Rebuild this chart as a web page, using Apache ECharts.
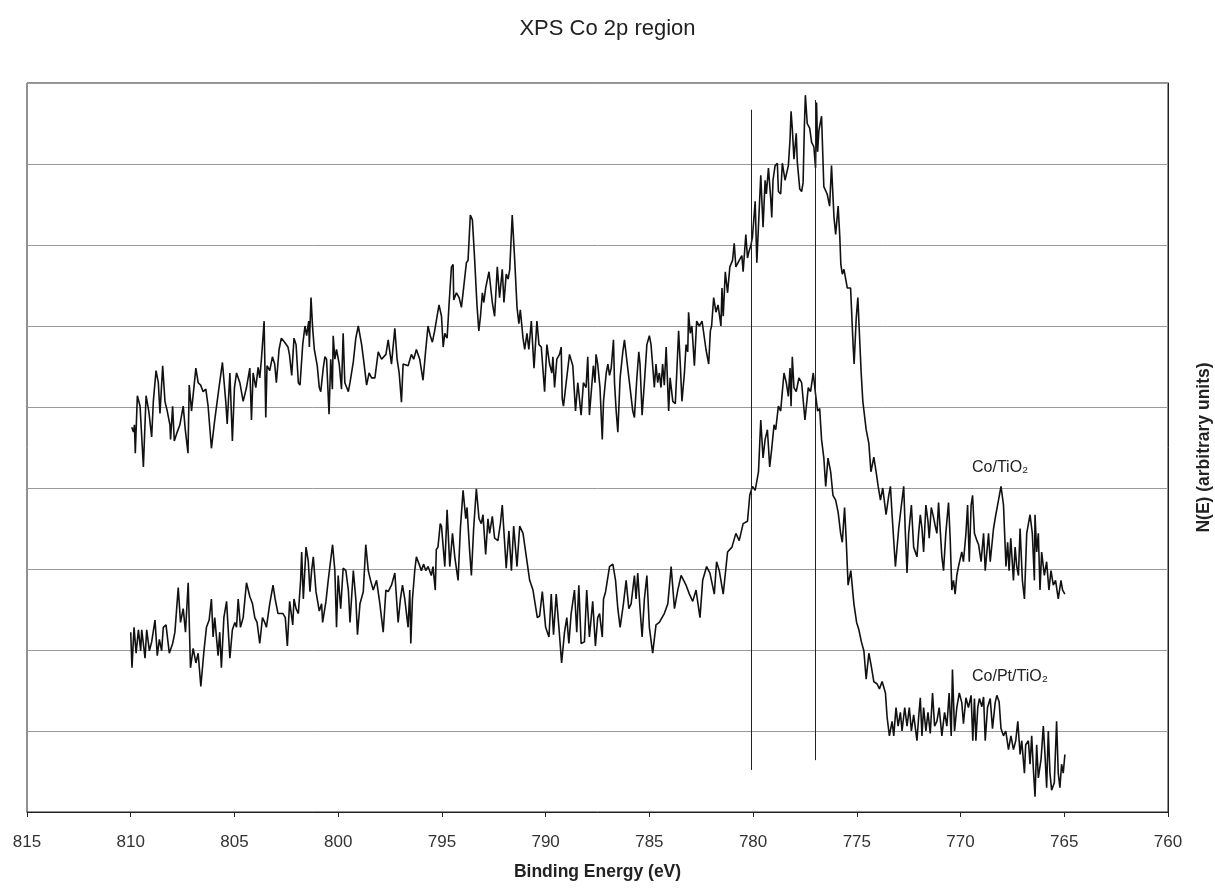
<!DOCTYPE html>
<html>
<head>
<meta charset="utf-8">
<title>XPS Co 2p region</title>
<script src="https://cdn.jsdelivr.net/npm/echarts@6/dist/echarts.min.js"></script>
<style>
  html, body { margin: 0; padding: 0; background: #fff; }
  #chart { width: 1215px; height: 888px; }
</style>
</head>
<body>
<div id="chart"></div>
<script>
// binding energy (eV) / N(E) pairs
const coTiO2 = [
  [809.95,4.75],[809.87,4.69],[809.82,4.78],[809.78,4.43],[809.68,5.14],[809.55,5.01],[809.39,4.26],[809.26,5.14],[809.13,4.95],[808.99,4.63],
  [808.91,5.07],[808.78,5.45],[808.67,5.30],[808.59,4.92],[808.46,5.51],[808.35,5.07],[808.24,4.95],[808.11,4.78],[808.08,4.60],[807.98,5.01],
  [807.90,4.58],[807.76,4.69],[807.63,4.78],[807.47,5.01],[807.37,4.72],[807.24,4.43],[807.18,5.27],[807.07,4.95],[806.86,5.48],[806.75,5.30],
  [806.63,5.27],[806.51,5.19],[806.38,5.22],[806.27,5.01],[806.11,4.49],[805.95,4.84],[805.77,5.19],[805.58,5.55],[805.42,5.07],[805.35,4.79],
  [805.22,5.42],[805.10,4.58],[805.00,5.24],[804.90,5.42],[804.74,5.30],[804.58,5.07],[804.42,5.24],[804.26,5.48],[804.18,4.84],[804.10,5.42],
  [803.97,5.24],[803.86,5.49],[803.78,5.36],[803.70,5.59],[803.57,6.06],[803.49,4.87],[803.43,5.51],[803.30,5.45],[803.17,5.62],[803.06,5.53],
  [802.98,5.30],[802.85,5.71],[802.74,5.85],[802.58,5.80],[802.42,5.74],[802.35,5.65],[802.24,5.39],[802.13,5.85],[802.03,5.77],[801.92,5.30],
  [801.84,5.27],[801.71,5.77],[801.60,6.00],[801.52,5.88],[801.42,6.06],[801.39,5.74],[801.31,6.35],[801.23,5.97],[801.15,5.71],[801.01,5.51],
  [800.91,5.24],[800.84,5.19],[800.72,5.48],[800.64,5.62],[800.56,5.59],[800.44,4.91],[800.36,5.59],[800.28,5.22],[800.24,5.88],[800.16,5.59],
  [800.08,5.71],[799.95,5.53],[799.84,5.22],[799.76,5.91],[799.68,5.30],[799.51,5.19],[799.43,5.30],[799.27,5.56],[799.15,5.85],[799.03,6.00],
  [798.87,5.77],[798.75,5.53],[798.63,5.27],[798.51,5.42],[798.39,5.36],[798.23,5.36],[798.07,5.68],[797.91,5.59],[797.70,5.65],[797.59,5.83],
  [797.43,5.53],[797.27,5.97],[797.16,5.59],[797.06,5.42],[796.95,5.06],[796.87,5.53],[796.63,5.51],[796.47,5.65],[796.36,5.59],[796.23,5.71],
  [796.07,5.59],[795.91,5.33],[795.80,5.65],[795.67,6.00],[795.56,5.88],[795.46,5.80],[795.35,5.94],[795.14,6.26],[795.02,6.12],[794.94,5.74],
  [794.86,5.91],[794.75,5.85],[794.65,6.29],[794.54,6.73],[794.46,6.76],[794.43,6.32],[794.30,6.41],[794.17,6.35],[794.06,6.23],[793.98,6.41],
  [793.82,6.78],[793.74,6.81],[793.63,7.37],[793.53,7.31],[793.42,6.81],[793.31,6.26],[793.22,5.94],[793.14,6.12],[793.05,6.41],[792.98,6.29],
  [792.89,6.47],[792.73,6.67],[792.57,6.29],[792.46,6.12],[792.33,6.73],[792.22,6.35],[792.09,6.70],[792.01,6.29],[791.90,6.64],[791.81,6.58],
  [791.73,6.70],[791.61,7.37],[791.49,6.81],[791.38,6.23],[791.29,6.03],[791.22,6.20],[791.09,5.85],[791.01,5.71],[790.90,5.91],[790.81,5.71],
  [790.69,6.06],[790.56,5.48],[790.42,6.06],[790.32,5.77],[790.21,5.74],[790.05,5.19],[789.94,5.77],[789.81,5.53],[789.70,5.42],[789.65,5.62],
  [789.57,5.24],[789.46,5.59],[789.33,5.65],[789.25,5.74],[789.20,5.10],[789.14,5.01],[789.01,5.30],[788.85,5.65],[788.69,5.51],[788.56,4.95],
  [788.45,5.30],[788.29,4.90],[788.18,5.30],[788.05,5.24],[787.97,5.62],[787.89,4.90],[787.70,5.51],[787.62,5.30],[787.57,5.65],[787.49,5.53],
  [787.38,5.24],[787.27,4.60],[787.21,5.07],[787.08,5.42],[787.00,5.53],[786.92,5.39],[786.84,5.48],[786.73,5.83],[786.68,5.30],[786.60,4.95],
  [786.52,4.69],[786.41,5.36],[786.28,5.68],[786.20,5.83],[786.12,5.65],[785.96,5.30],[785.80,4.95],[785.72,4.87],[785.61,5.33],[785.51,5.68],
  [785.45,5.53],[785.35,4.90],[785.24,5.30],[785.12,5.77],[785.00,5.88],[784.92,5.77],[784.84,5.51],[784.76,5.24],[784.68,5.53],[784.60,5.30],
  [784.52,5.42],[784.44,5.24],[784.36,5.53],[784.28,5.27],[784.19,5.74],[784.07,4.95],[784.00,5.36],[783.87,5.07],[783.75,5.04],[783.68,5.42],
  [783.59,5.94],[783.51,5.53],[783.43,5.07],[783.31,5.42],[783.23,5.77],[783.15,5.68],[783.11,6.17],[783.03,5.91],[782.95,6.00],[782.83,5.51],
  [782.72,6.06],[782.59,6.00],[782.46,6.06],[782.27,5.71],[782.14,5.53],[782.06,5.94],[782.00,6.00],[781.90,6.35],[781.79,6.17],[781.69,6.26],
  [781.55,6.00],[781.50,6.47],[781.44,6.12],[781.34,6.67],[781.23,6.41],[781.12,6.73],[780.99,6.81],[780.91,7.02],[780.83,6.73],[780.67,6.81],
  [780.54,6.87],[780.48,6.67],[780.35,7.13],[780.27,6.84],[780.19,6.93],[780.11,6.99],[780.03,7.10],[779.90,7.54],[779.82,6.78],[779.74,6.78],
  [779.63,7.86],[779.52,7.22],[779.42,7.80],[779.36,7.63],[779.26,7.95],[779.15,7.57],[779.10,7.34],[779.04,7.80],[778.94,7.98],[778.83,8.01],
  [778.78,7.66],[778.67,7.63],[778.59,8.01],[778.46,7.80],[778.30,7.98],[778.22,8.30],[778.17,8.65],[778.11,8.44],[778.03,8.06],[777.92,8.38],
  [777.87,8.03],[777.75,7.69],[777.66,7.66],[777.59,7.77],[777.53,8.44],[777.48,8.85],[777.39,8.50],[777.27,8.44],[777.18,8.27],[777.07,8.21],
  [776.99,7.95],[776.94,8.76],[776.89,8.15],[776.83,8.41],[776.70,8.59],[776.59,7.72],[776.43,7.63],[776.31,7.48],[776.22,7.98],[776.10,7.34],
  [776.02,7.13],[775.90,7.48],[775.82,7.10],[775.77,6.76],[775.70,6.64],[775.62,6.70],[775.46,6.47],[775.30,6.47],[775.22,6.00],[775.18,5.77],
  [775.13,5.53],[775.03,6.09],[774.95,6.35],[774.87,5.88],[774.79,5.42],[774.71,5.07],[774.55,4.72],[774.42,4.55],[774.32,4.20],[774.18,4.38],
  [774.07,4.20],[773.97,4.02],[773.86,3.85],[773.75,4.00],[773.59,3.67],[773.46,3.91],[773.38,4.02],[773.30,3.67],[773.14,3.03],[772.98,3.50],
  [772.85,3.79],[772.74,4.02],[772.66,3.44],[772.58,2.95],[772.50,3.44],[772.37,3.79],[772.26,3.27],[772.10,3.15],[772.02,3.44],[771.94,3.67],
  [771.86,3.50],[771.78,3.21],[771.67,3.79],[771.57,3.59],[771.51,3.38],[771.41,3.76],[771.31,3.65],[771.22,3.53],[771.14,3.44],[771.06,3.82],
  [770.90,3.15],[770.82,2.98],[770.71,3.44],[770.58,3.82],[770.50,3.38],[770.42,2.74],[770.34,2.86],[770.26,2.69],[770.18,2.92],[770.10,3.03],
  [769.94,3.21],[769.86,3.09],[769.74,3.44],[769.66,3.79],[769.58,3.09],[769.49,3.79],[769.42,3.91],[769.33,3.44],[769.21,3.35],[769.13,3.30],
  [769.01,3.09],[768.89,3.44],[768.81,2.98],[768.73,3.21],[768.65,3.44],[768.57,3.09],[768.41,3.50],[768.30,3.67],[768.17,3.85],[768.05,4.02],
  [767.93,3.79],[767.81,3.03],[767.73,3.33],[767.66,2.98],[767.58,3.38],[767.45,2.86],[767.37,3.27],[767.29,3.03],[767.21,2.92],[767.13,3.50],
  [767.02,2.86],[766.92,2.63],[766.81,3.44],[766.65,3.67],[766.54,3.44],[766.44,2.86],[766.41,3.67],[766.33,3.21],[766.25,3.44],[766.17,2.74],
  [766.09,3.21],[765.96,2.92],[765.85,3.09],[765.74,2.74],[765.64,2.98],[765.53,2.80],[765.42,2.86],[765.29,2.63],[765.16,2.86],[765.08,2.74],
  [764.97,2.69]
];

const coPtTiO2 = [
  [810.00,2.22],[809.94,1.78],[809.84,2.28],[809.74,1.96],[809.63,2.25],[809.52,1.99],[809.47,2.25],[809.31,1.90],[809.23,2.25],[809.10,1.99],
  [808.99,2.10],[808.83,2.37],[808.72,1.93],[808.62,2.13],[808.51,1.99],[808.43,2.28],[808.30,2.31],[808.14,1.96],[807.98,2.08],[807.87,2.22],
  [807.71,2.77],[807.60,2.34],[807.47,2.51],[807.36,2.22],[807.23,2.83],[807.12,1.78],[806.99,2.02],[806.86,1.84],[806.75,1.96],[806.62,1.55],
  [806.47,1.99],[806.35,2.28],[806.22,2.37],[806.11,2.63],[806.03,2.16],[805.95,2.40],[805.79,1.93],[805.71,2.22],[805.63,1.78],[805.51,2.40],
  [805.38,2.60],[805.22,1.90],[805.10,2.25],[804.98,2.34],[804.90,2.28],[804.82,2.63],[804.71,2.28],[804.58,2.40],[804.42,2.83],[804.26,2.66],
  [804.13,2.57],[804.02,2.40],[803.91,2.34],[803.78,2.08],[803.65,2.40],[803.54,2.34],[803.46,2.28],[803.30,2.57],[803.14,2.80],[803.04,2.63],
  [802.90,2.45],[802.66,2.45],[802.55,2.40],[802.45,2.05],[802.34,2.60],[802.19,2.31],[802.13,2.63],[802.03,2.51],[801.92,2.45],[801.81,2.86],
  [801.76,3.21],[801.68,2.63],[801.55,3.27],[801.44,3.09],[801.36,2.72],[801.28,2.98],[801.20,3.15],[801.07,2.72],[800.91,2.48],[800.80,2.57],
  [800.75,2.34],[800.59,2.60],[800.48,2.86],[800.40,3.03],[800.27,3.30],[800.16,2.98],[800.08,2.28],[800.00,2.92],[799.88,2.51],[799.76,3.01],
  [799.63,2.98],[799.51,2.74],[799.43,2.34],[799.27,2.98],[799.15,2.63],[799.07,2.19],[798.95,2.57],[798.79,2.72],[798.67,3.30],[798.55,2.98],
  [798.44,2.86],[798.31,2.74],[798.15,2.86],[797.99,2.57],[797.83,2.22],[797.70,2.74],[797.59,2.72],[797.43,2.80],[797.27,2.95],[797.11,2.34],
  [797.00,2.63],[796.90,2.80],[796.79,2.63],[796.63,2.28],[796.55,2.74],[796.50,2.08],[796.42,2.63],[796.31,2.98],[796.23,3.15],[796.10,3.06],
  [795.99,2.98],[795.88,3.06],[795.78,2.98],[795.67,3.03],[795.51,2.92],[795.43,3.03],[795.32,2.74],[795.27,3.24],[795.19,3.27],[795.08,3.56],
  [795.02,3.53],[794.86,3.03],[794.75,3.73],[794.62,3.03],[794.49,3.44],[794.38,3.15],[794.22,2.86],[794.11,3.50],[793.98,3.97],[793.85,3.62],
  [793.79,3.76],[793.66,3.21],[793.58,2.92],[793.47,3.50],[793.34,3.99],[793.21,3.62],[793.10,3.56],[793.02,3.67],[792.89,3.18],[792.78,3.62],
  [792.70,3.44],[792.57,3.65],[792.46,3.38],[792.30,3.35],[792.18,3.56],[792.09,3.79],[791.90,3.01],[791.77,3.47],[791.65,2.98],[791.54,3.53],
  [791.38,3.03],[791.25,3.53],[791.09,3.44],[790.93,3.15],[790.77,2.86],[790.61,2.74],[790.40,2.40],[790.29,2.42],[790.16,2.72],[790.00,2.28],
  [789.84,2.16],[789.73,2.69],[789.62,2.19],[789.49,2.69],[789.36,2.28],[789.23,1.84],[789.09,2.22],[788.98,2.40],[788.88,2.08],[788.77,2.45],
  [788.61,2.74],[788.50,2.22],[788.40,2.80],[788.29,2.08],[788.13,2.10],[788.02,2.74],[787.89,2.16],[787.73,2.60],[787.60,2.05],[787.49,2.40],
  [787.40,2.45],[787.27,2.16],[787.21,2.63],[787.11,2.72],[786.92,3.03],[786.76,3.06],[786.63,2.86],[786.52,2.51],[786.41,2.28],[786.25,2.57],
  [786.12,2.86],[785.99,2.51],[785.88,2.57],[785.72,2.92],[785.64,2.63],[785.56,2.95],[785.45,2.51],[785.35,2.16],[785.24,2.63],[785.12,2.92],
  [785.00,2.28],[784.84,1.96],[784.68,2.31],[784.52,2.34],[784.28,2.45],[784.11,2.57],[783.95,3.03],[783.79,2.51],[783.63,2.74],[783.47,2.92],
  [783.23,2.80],[783.07,2.69],[782.91,2.60],[782.75,2.74],[782.56,2.40],[782.43,2.86],[782.24,3.03],[782.08,2.95],[781.87,2.69],[781.76,3.09],
  [781.63,2.98],[781.44,2.69],[781.23,3.21],[781.02,3.27],[780.83,3.44],[780.67,3.35],[780.48,3.56],[780.27,3.59],[780.16,3.91],[780.03,4.02],
  [779.90,3.97],[779.74,4.20],[779.63,4.84],[779.52,4.37],[779.42,4.60],[779.31,4.72],[779.20,4.26],[779.10,4.49],[778.99,4.78],[778.91,4.72],
  [778.78,5.01],[778.67,4.95],[778.59,5.19],[778.51,5.42],[778.40,5.30],[778.30,5.13],[778.22,5.48],[778.17,5.01],[778.11,5.62],[778.03,5.24],
  [777.92,5.19],[777.79,5.36],[777.66,5.30],[777.50,4.84],[777.34,5.24],[777.23,5.19],[777.10,5.42],[776.99,5.16],[776.89,4.95],[776.79,4.98],
  [776.70,4.60],[776.59,4.37],[776.50,4.02],[776.39,4.37],[776.26,4.20],[776.15,3.91],[776.02,3.85],[775.90,3.70],[775.78,3.44],[775.70,3.33],
  [775.59,3.76],[775.51,3.35],[775.42,2.80],[775.29,2.98],[775.14,2.57],[775.01,2.34],[774.90,2.25],[774.78,2.10],[774.66,1.99],[774.55,1.64],
  [774.42,1.96],[774.31,1.81],[774.18,1.61],[774.02,1.58],[773.91,1.52],[773.78,1.61],[773.62,1.47],[773.54,1.17],[773.43,0.94],[773.30,1.12],
  [773.22,0.94],[773.11,1.29],[773.01,1.06],[772.90,1.23],[772.82,1.00],[772.69,1.29],[772.58,1.06],[772.47,1.29],[772.37,1.00],[772.26,1.20],
  [772.10,0.88],[772.02,1.17],[771.94,1.41],[771.86,0.94],[771.78,1.29],[771.67,1.00],[771.57,1.23],[771.46,0.97],[771.35,1.47],[771.25,1.06],
  [771.14,1.12],[771.03,1.29],[770.90,0.94],[770.77,1.23],[770.66,1.06],[770.55,1.47],[770.45,0.94],[770.39,1.76],[770.29,1.00],[770.18,1.29],
  [770.06,1.47],[769.94,1.35],[769.86,1.09],[769.74,1.41],[769.62,1.29],[769.49,1.44],[769.41,0.88],[769.33,1.40],[769.26,0.88],[769.17,1.29],
  [769.09,1.40],[768.97,1.30],[768.89,1.42],[768.81,0.88],[768.70,1.29],[768.57,1.40],[768.46,1.03],[768.33,1.35],[768.25,1.44],[768.14,1.36],
  [768.05,1.03],[767.93,0.94],[767.82,1.00],[767.69,0.77],[767.57,0.94],[767.45,0.77],[767.34,0.88],[767.24,1.12],[767.13,0.71],[767.05,0.88],
  [766.92,0.48],[766.86,0.83],[766.73,0.88],[766.65,0.59],[766.57,0.94],[766.49,0.53],[766.41,0.19],[766.33,0.83],[766.25,0.42],[766.12,0.65],
  [766.01,1.06],[765.93,0.71],[765.85,0.30],[765.77,1.00],[765.69,0.48],[765.61,0.27],[765.48,0.36],[765.37,1.12],[765.29,0.48],[765.21,0.30],
  [765.13,0.59],[765.05,0.48],[764.97,0.71]
];

// reference lines: [energy, bottom, top]
const refLines = [
  [780.1, 0.52, 8.67],
  [777.0, 0.64, 8.79]
];

const xTicks = { min: 760, max: 815, step: 5 };
const yRange = { min: 0, max: 9, step: 1 };

const font = '"Liberation Sans", Arial, sans-serif';
const chart = echarts.init(document.getElementById('chart'), null, { renderer: 'canvas' });

chart.setOption({
  animation: false,
  backgroundColor: '#fff',
  title: {
    text: 'XPS Co 2p region',
    left: 'center',
    top: 13,
    textStyle: { fontFamily: font, fontSize: 22, fontWeight: 'normal', color: '#222' }
  },
  grid: {
    left: 27,
    right: 47,
    top: 83,
    bottom: 76,
    containLabel: false,
    outerBoundsMode: 'none',
    show: true,
    borderColor: '#222',
    borderWidth: 1
  },
  xAxis: {
    type: 'value',
    inverse: true,
    min: xTicks.min,
    max: xTicks.max,
    interval: xTicks.step,
    name: 'Binding Energy (eV)',
    nameLocation: 'middle',
    nameGap: 51,
    nameTextStyle: { fontFamily: font, fontSize: 17.5, fontWeight: 'bold', color: '#222' },
    axisLine: { show: true, lineStyle: { color: '#222', width: 1 } },
    axisTick: { show: true, inside: false, length: 5, lineStyle: { color: '#222' } },
    axisLabel: { margin: 22, fontFamily: font, fontSize: 17, color: '#333' },
    splitLine: { show: false }
  },
  yAxis: {
    type: 'value',
    position: 'right',
    min: yRange.min,
    max: yRange.max,
    interval: yRange.step,
    name: 'N(E) (arbitrary units)',
    nameLocation: 'middle',
    nameRotate: 90,
    nameGap: 27,
    nameTextStyle: { fontFamily: font, fontSize: 17.5, fontWeight: 'bold', color: '#222' },
    axisLine: { show: true, lineStyle: { color: '#222' } },
    axisTick: { show: false },
    axisLabel: { show: false },
    splitLine: { show: true, lineStyle: { color: '#9a9a9a', width: 1 } }
  },
  series: [
    {
      name: 'Co/TiO2',
      type: 'line',
      data: coTiO2,
      showSymbol: false,
      lineStyle: { color: '#111', width: 1.6 },
      markLine: {
        silent: true,
        symbol: 'none',
        label: { show: false },
        lineStyle: { color: '#222', width: 1, type: 'solid' },
        data: refLines.map(function (r) {
          return [{ coord: [r[0], r[1]] }, { coord: [r[0], r[2]] }];
        })
      }
    },
    {
      name: 'Co/Pt/TiO2',
      type: 'line',
      data: coPtTiO2,
      showSymbol: false,
      lineStyle: { color: '#111', width: 1.6 }
    }
  ],
  graphic: [
    {
      type: 'text',
      left: 972,
      top: 460,
      style: { text: 'Co/TiO\u2082', font: '16px ' + font, fill: '#222' }
    },
    {
      type: 'text',
      left: 972,
      top: 669,
      style: { text: 'Co/Pt/TiO\u2082', font: '16px ' + font, fill: '#222' }
    }
  ]
});
</script>
</body>
</html>
